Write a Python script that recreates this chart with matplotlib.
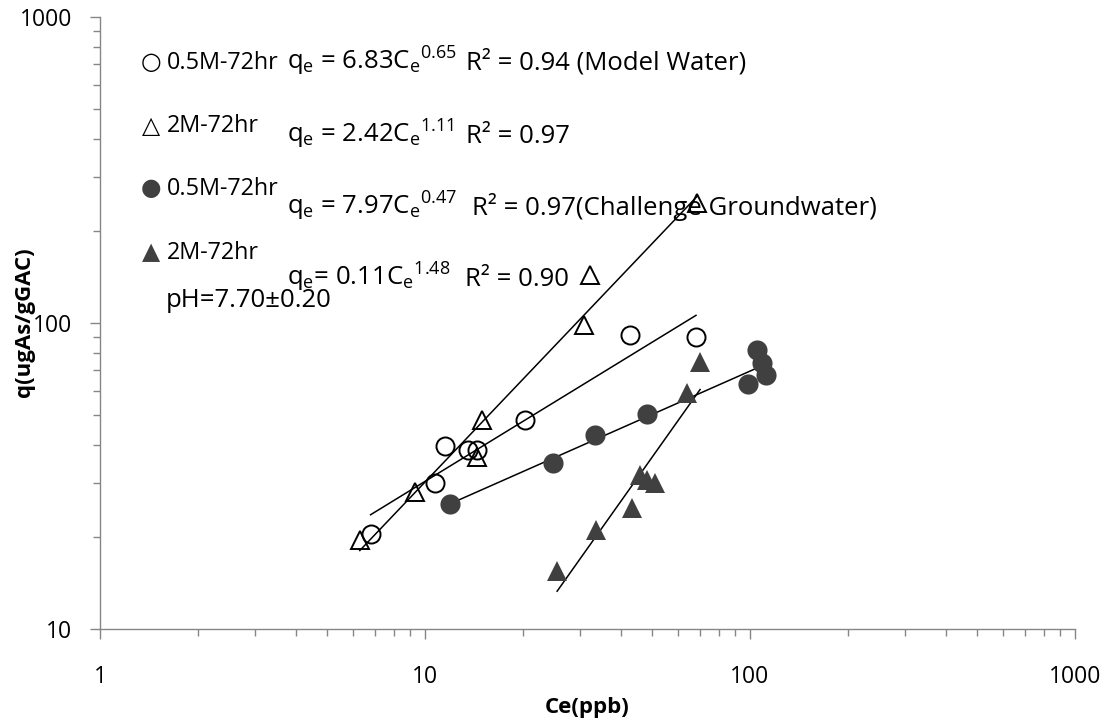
import numpy as np
import matplotlib
matplotlib.use('Agg')
import matplotlib.pyplot as plt
from matplotlib import ticker

plt.rcParams['font.family'] = ['Open Sans', 'DejaVu Sans']
plt.rcParams['mathtext.fontset'] = 'custom'
plt.rcParams['mathtext.rm'] = 'Open Sans'
plt.rcParams['mathtext.default'] = 'regular'

# Model water, 0.5M-72hr (open circles)
ce_mw_05 = [6.8, 10.7, 11.5, 13.6, 14.5, 20.3, 42.7, 68.2]
q_mw_05 = [20.5, 30.0, 39.6, 38.4, 38.4, 48.2, 91.4, 90.0]
# Model water, 2M-72hr (open triangles)
ce_mw_2 = [6.3, 9.3, 14.5, 15.0, 30.8, 32.2, 68.7]
q_mw_2 = [19.5, 28.0, 36.5, 48.2, 98.4, 143.5, 246.0]
# Challenge groundwater, 0.5M-72hr (filled circles)
ce_gw_05 = [11.9, 24.8, 33.3, 48.2, 98.6, 105.0, 108.9, 112.0]
q_gw_05 = [25.6, 34.8, 43.0, 50.5, 63.0, 81.7, 74.0, 67.6]
# Challenge groundwater, 2M-72hr (filled triangles)
ce_gw_2 = [25.5, 33.6, 43.4, 45.9, 48.2, 51.0, 64.0, 70.2]
q_gw_2 = [15.5, 21.1, 24.8, 31.8, 30.7, 30.0, 59.0, 74.6]

legend_labels = ['0.5M-72hr', '2M-72hr', '0.5M-72hr', '2M-72hr']
equations = ['q$_e$ = 6.83C$_e$$^{0.65}$', 'q$_e$ = 2.42C$_e$$^{1.11}$',
             'q$_e$ = 7.97C$_e$$^{0.47}$', 'q$_e$= 0.11C$_e$$^{1.48}$']
r2_labels = ['R² = 0.94 (Model Water)', 'R² = 0.97',
             'R² = 0.97(Challenge Groundwater)', 'R² = 0.90']
x_ticks = [1, 10, 100, 1000]
y_ticks = [10, 100, 1000]

W, H = 1108, 725
fig = plt.figure(figsize=(W / 100, H / 100), dpi=100)
ax = fig.add_axes([100 / W, 1 - 629 / H, 975 / W, 612 / H])


def fpos(x, y):
    # pixel position -> figure fraction
    return x / W, 1 - y / H


dark = '#404040'
series = [
    (ce_mw_05, q_mw_05, dict(marker='o', ms=13, mfc='none', mec='black', mew=1.4)),
    (ce_mw_2, q_mw_2, dict(marker='^', ms=13, mfc='none', mec='black', mew=1.4)),
    (ce_gw_05, q_gw_05, dict(marker='o', ms=14.5, mfc=dark, mec=dark, mew=0)),
    (ce_gw_2, q_gw_2, dict(marker='^', ms=14.5, mfc=dark, mec=dark, mew=0)),
]
for ce, q, style in series:
    ax.plot(ce, q, linestyle='none', zorder=3, **style)
    # power-law trendline fitted in log space, spanning the data range
    b, a = np.polyfit(np.log10(ce), np.log10(q), 1)
    xs = np.array([min(ce), max(ce)])
    ax.plot(xs, 10 ** (a + b * np.log10(xs)), color='black', lw=1.1, zorder=2)

ax.set_xscale('log')
ax.set_yscale('log')
ax.set_xlim(1, 1000)
ax.set_ylim(10, 1000)
ax.set_xticks(x_ticks)
ax.set_yticks(y_ticks)
fmt = ticker.FuncFormatter(lambda v, p: f'{v:g}')
ax.xaxis.set_major_formatter(fmt)
ax.yaxis.set_major_formatter(fmt)
ax.xaxis.set_minor_formatter(ticker.NullFormatter())
ax.yaxis.set_minor_formatter(ticker.NullFormatter())

for s in ['top', 'right']:
    ax.spines[s].set_visible(False)
for s in ['left', 'bottom']:
    ax.spines[s].set_color('#868686')
    ax.spines[s].set_linewidth(1.0)
ax.tick_params(which='major', length=7, width=1, color='#868686', labelsize=16.5)
ax.tick_params(which='minor', length=5, width=1, color='#868686')
ax.tick_params(axis='x', which='major', pad=19)
ax.tick_params(axis='y', which='major', pad=13)

fig.text(*fpos(587, 708), 'Ce(ppb)', ha='center', va='center',
         fontsize=16, fontweight='bold')
fig.text(*fpos(25, 322), 'q(ugAs/gGAC)', ha='center', va='center',
         rotation=90, fontsize=16, fontweight='bold')

# text-box legend with equations
glyphs = ['○', '△', '●', '▲']
glyph_colors = ['black', 'black', dark, dark]
glyph_y = [62, 126, 188, 252]
label_y = [69, 132, 195, 259]
eq_y = [70, 143, 215, 286]
r2_x = [466, 466, 472, 465]
for i in range(4):
    fig.text(*fpos(151, glyph_y[i]), glyphs[i], ha='center', va='center',
             fontsize=17, color=glyph_colors[i], family=['DejaVu Sans'])
    fig.text(*fpos(167, label_y[i]), legend_labels[i], va='baseline', fontsize=16.8)
    fig.text(*fpos(287, eq_y[i]), equations[i], va='baseline', fontsize=18.5)
    fig.text(*fpos(r2_x[i], eq_y[i]), r2_labels[i], va='baseline', fontsize=18.5)
fig.text(*fpos(166, 307), 'pH=7.70±0.20', va='baseline', fontsize=18.5)

fig.savefig('out.png', dpi=100)
